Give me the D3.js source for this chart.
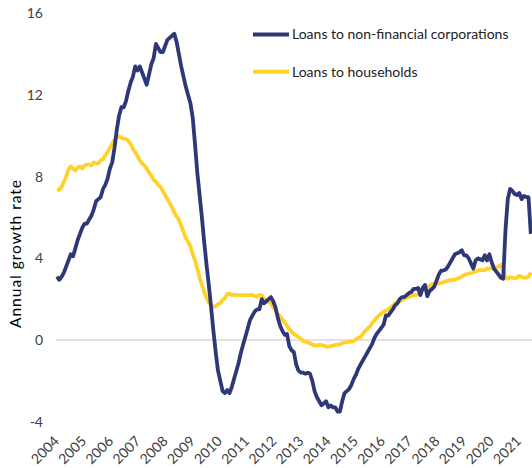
<!DOCTYPE html>
<html>
<head>
<meta charset="utf-8">
<script src="https://cdn.jsdelivr.net/npm/d3@7"></script>
<style>
  body { margin: 0; background: #fff; }
  text { font-family: Lato, "Liberation Sans", sans-serif; fill: #404040; }
</style>
</head>
<body>
<div id="chart"></div>
<script>
// monthly annual growth rates, Jan 2004 .. Mar 2021
var nfcLoans = [
  3.1, 2.95, 3.1, 3.3, 3.6, 3.9, 4.2, 4.1, 4.5, 4.9, 5.2, 5.5,           // 2004
  5.7, 5.7, 5.9, 6.1, 6.4, 6.8, 6.9, 7.0, 7.4, 7.6, 7.9, 8.4,            // 2005
  8.7, 9.4, 10.3, 11.0, 11.4, 11.4, 11.7, 12.2, 12.6, 12.9, 13.4, 13.2,  // 2006
  13.4, 13.1, 12.8, 12.5, 13.0, 13.5, 13.8, 14.5, 14.3, 14.1, 14.1, 14.4, // 2007
  14.7, 14.8, 14.9, 15.0, 14.6, 14.0, 13.4, 12.9, 12.4, 12.0, 11.6, 10.9, // 2008
  9.6, 8.2, 7.1, 6.0, 4.8, 3.7, 2.7, 1.6, 0.45, -0.6, -1.5, -2.0,        // 2009
  -2.5, -2.6, -2.45, -2.6, -2.3, -1.9, -1.5, -1.1, -0.6, -0.2, 0.2, 0.6, // 2010
  1.0, 1.2, 1.4, 1.5, 1.5, 2.0, 1.8, 1.9, 2.0, 2.1, 1.9, 1.6,            // 2011
  1.1, 0.7, 0.45, 0.25, 0.3, -0.3, -0.5, -0.6, -1.2, -1.5, -1.6, -1.6,   // 2012
  -1.65, -1.6, -1.65, -2.0, -2.5, -2.8, -3.0, -3.2, -3.1, -3.0, -3.3, -3.2, // 2013
  -3.3, -3.3, -3.5, -3.5, -3.0, -2.6, -2.5, -2.4, -2.2, -1.9, -1.7, -1.4,  // 2014
  -1.2, -1.0, -0.8, -0.6, -0.4, -0.2, 0.1, 0.3, 0.45, 0.6, 0.75, 1.2,    // 2015
  1.2, 1.35, 1.5, 1.7, 1.8, 2.0, 2.1, 2.1, 2.2, 2.3, 2.35, 2.5,          // 2016
  2.5, 2.55, 2.2, 2.55, 2.7, 2.15, 2.4, 2.5, 2.6, 2.9, 3.2, 3.4,         // 2017
  3.4, 3.45, 3.6, 3.8, 4.0, 4.2, 4.25, 4.3, 4.4, 4.15, 4.15, 4.0,        // 2018
  3.75, 3.5, 3.9, 4.0, 3.95, 3.9, 4.15, 3.9, 4.2, 3.8, 3.5, 3.35,        // 2019
  3.2, 3.05, 3.0, 5.4, 6.9, 7.4, 7.3, 7.15, 7.1, 7.2, 6.9, 7.05,         // 2020
  7.0, 7.0, 5.2                                                          // 2021
];

var householdLoans = [
  7.4, 7.35, 7.5, 7.75, 8.0, 8.35, 8.5, 8.4, 8.3, 8.45, 8.5, 8.4,        // 2004
  8.55, 8.6, 8.6, 8.55, 8.7, 8.65, 8.65, 8.8, 8.85, 9.05, 9.2, 9.4,      // 2005
  9.6, 9.8, 9.95, 9.98, 9.9, 9.85, 9.85, 9.75, 9.6, 9.35, 9.2, 9.0,      // 2006
  8.8, 8.65, 8.55, 8.4, 8.2, 8.05, 7.85, 7.75, 7.6, 7.5, 7.3, 7.1,       // 2007
  6.9, 6.7, 6.5, 6.25, 6.05, 5.9, 5.6, 5.3, 5.0, 4.8, 4.6, 4.2,          // 2008
  3.9, 3.5, 3.05, 2.7, 2.35, 2.05, 1.85, 1.75, 1.63, 1.65, 1.75, 1.8,    // 2009
  1.95, 2.05, 2.25, 2.28, 2.2, 2.22, 2.2, 2.2, 2.2, 2.2, 2.2, 2.2,       // 2010
  2.2, 2.2, 2.15, 2.12, 2.2, 2.2, 2.0, 1.95, 1.85, 1.8, 1.6, 1.45,       // 2011
  1.25, 1.15, 1.0, 0.85, 0.7, 0.55, 0.4, 0.3, 0.22, 0.16, 0.05, -0.05,   // 2012
  -0.08, -0.12, -0.16, -0.22, -0.28, -0.26, -0.24, -0.25, -0.28, -0.32, -0.33, -0.3, // 2013
  -0.28, -0.24, -0.22, -0.2, -0.16, -0.12, -0.1, -0.08, -0.08, -0.06, 0.05, 0.1,     // 2014
  0.15, 0.3, 0.45, 0.55, 0.65, 0.82, 0.95, 1.1, 1.2, 1.3, 1.38, 1.45,    // 2015
  1.5, 1.6, 1.68, 1.79, 1.85, 1.9, 1.95, 2.04, 2.08, 2.12, 2.15, 2.2,    // 2016
  2.2, 2.25, 2.35, 2.45, 2.5, 2.6, 2.65, 2.72, 2.77, 2.78, 2.77, 2.8,    // 2017
  2.82, 2.88, 2.9, 2.94, 2.94, 2.96, 3.0, 3.05, 3.1, 3.18, 3.22, 3.26,   // 2018
  3.28, 3.32, 3.35, 3.4, 3.42, 3.42, 3.42, 3.5, 3.5, 3.52, 3.5, 3.55,    // 2019
  3.6, 3.68, 3.45, 3.05, 3.0, 3.08, 3.05, 3.02, 3.05, 3.15, 3.1, 3.05,   // 2020
  3.05, 3.1, 3.3                                                         // 2021
];

var yearLabels = ["2004", "2005", "2006", "2007", "2008", "2009", "2010", "2011", "2012",
                  "2013", "2014", "2015", "2016", "2017", "2018", "2019", "2020", "2021"];
var yTicks = [-4, 0, 4, 8, 12, 16];
var seriesNames = ["Loans to non-financial corporations", "Loans to households"];
var seriesColors = ["#2f3877", "#fdd22a"];

var width = 532, height = 468;

var svg = d3.select("#chart").append("svg")
    .attr("width", width)
    .attr("height", height);

// scales
var x = d3.scaleLinear().domain([0, nfcLoans.length - 1]).range([57, 530.8]);
var y = d3.scaleLinear().domain([-4, 16]).range([421.7, 13.3]);
var xLab = d3.scalePoint().domain(yearLabels).range([60, 522]);

// zero line
svg.append("line")
    .attr("x1", 56).attr("x2", width)
    .attr("y1", y(0)).attr("y2", y(0))
    .attr("stroke", "#d9d9d9")
    .attr("stroke-width", 1.5);

// y tick labels
svg.selectAll("text.ytick").data(yTicks).enter()
  .append("text")
    .attr("class", "ytick")
    .attr("x", 43)
    .attr("y", d => y(d))
    .attr("dy", "0.35em")
    .attr("text-anchor", "end")
    .style("font-size", "14px")
    .text(d => d);

// x labels, rotated
svg.selectAll("text.xlab").data(yearLabels).enter()
  .append("text")
    .attr("class", "xlab")
    .attr("text-anchor", "end")
    .attr("transform", d => "translate(" + xLab(d) + ",442) rotate(-45)")
    .style("font-size", "14px")
    .text(d => d);

// y axis title
svg.append("text")
    .attr("transform", "translate(21,254) rotate(-90)")
    .attr("text-anchor", "middle")
    .attr("textLength", 148)
    .attr("lengthAdjust", "spacing")
    .style("font-size", "15.5px")
    .style("fill", "#000")
    .text("Annual growth rate");

// lines
var line = d3.line()
    .x((d, i) => x(i))
    .y(d => y(d));

[householdLoans, nfcLoans].forEach(function(s, k){
  svg.append("path")
    .datum(s)
    .attr("fill", "none")
    .attr("stroke", seriesColors[1 - k])
    .attr("stroke-width", 3.8)
    .attr("stroke-linejoin", "round")
    .attr("d", line);
});

// legend
var legend = svg.selectAll("g.legend").data(seriesNames).enter()
  .append("g")
    .attr("class", "legend")
    .attr("transform", (d, i) => "translate(253," + (34.5 + i * 37.3) + ")");

legend.append("line")
    .attr("x1", 0).attr("x2", 36)
    .attr("stroke", (d, i) => seriesColors[i])
    .attr("stroke-width", 4);

legend.append("text")
    .attr("x", 39)
    .attr("dy", "0.35em")
    .style("font-size", "14px")
    .style("fill", "#222")
    .text(d => d);
</script>
</body>
</html>
